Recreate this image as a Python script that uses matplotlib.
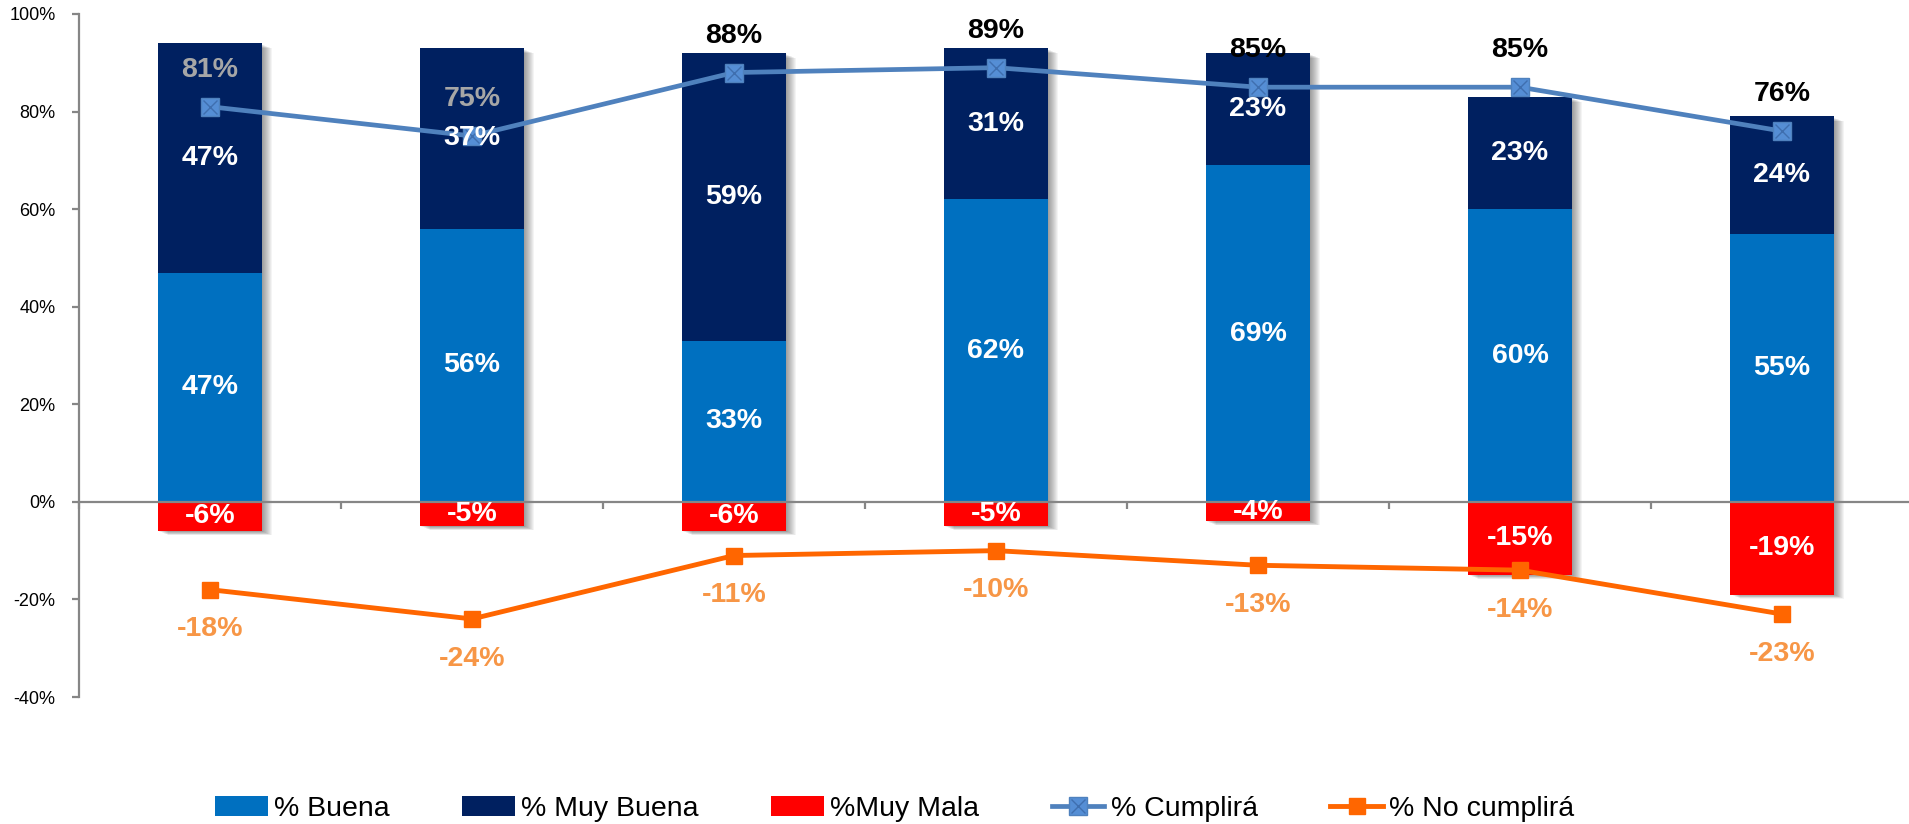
import numpy as np
import matplotlib
matplotlib.use('Agg')
import matplotlib.pyplot as plt
from matplotlib.ticker import FuncFormatter, FixedLocator

# ---- data ----
categories = ['1', '2', '3', '4', '5', '6', '7']
buena = [47, 56, 33, 62, 69, 60, 55]
muy_buena = [47, 37, 59, 31, 23, 23, 24]
muy_mala = [-6, -5, -6, -5, -4, -15, -19]
cumplira = [81, 75, 88, 89, 85, 85, 76]
no_cumplira = [-18, -24, -11, -10, -13, -14, -23]
yticks = [-40, -20, 0, 20, 40, 60, 80, 100]

plt.rcParams['font.family'] = ['Liberation Sans', 'DejaVu Sans']

W, H = 1909, 824
fig = plt.figure(figsize=(W / 100, H / 100), dpi=100)
ax = fig.add_axes([79 / W, 1 - 697 / H, (1913 - 79) / W, (697 - 14) / H])

x = np.arange(len(categories))
bw = 0.4
ax.set_xlim(-0.5, len(x) - 0.5)
ax.set_ylim(-40, 100)

# soft shadow to the right of each bar stack
px_x = (len(x)) / (1913 - 79)      # data units per pixel (x)
px_y = 140 / (697 - 14)            # data units per pixel (y)
tops = np.array(buena) + np.array(muy_buena)
bots = np.array(muy_mala)
for k in range(1, 11):
    ax.bar(x + k * px_x, tops - bots - 1.0 * px_y, bottom=bots - 0.4 * k * px_y,
           width=bw, color='black', alpha=0.045, lw=0, zorder=0.5)

b1 = ax.bar(x, buena, width=bw, color='#0070C0', lw=0, zorder=1)
b2 = ax.bar(x, muy_buena, bottom=buena, width=bw, color='#002060', lw=0, zorder=1)
b3 = ax.bar(x, muy_mala, width=bw, color='#FF0000', lw=0, zorder=1)

l1, = ax.plot(x, cumplira, color='#4F81BD', lw=3.4, marker='s', ms=13,
              mfc='#558ED5', mec='#4F81BD', zorder=5)
l1x, = ax.plot(x, cumplira, ls='none', marker='x', ms=10, mec='#3F6FAF',
               mew=1.0, zorder=6)
l2, = ax.plot(x, no_cumplira, color='#FF6600', lw=3.5, marker='s', ms=12,
              mfc='#FF6600', mec='#FF6600', zorder=5)

lab_kw = dict(ha='center', va='center', fontsize=20.5, fontweight='bold')
for i in range(len(x)):
    ax.text(x[i], buena[i] / 2, f'{buena[i]}%', color='white', zorder=7, **lab_kw)
    ax.text(x[i], buena[i] + muy_buena[i] / 2, f'{muy_buena[i]}%', color='white', zorder=7, **lab_kw)
    ax.text(x[i], muy_mala[i] / 2, f'{muy_mala[i]}%', color='white', zorder=7, **lab_kw)
    c = '#A6A6A6' if i < 2 else 'black'
    ax.annotate(f'{cumplira[i]}%', (x[i], cumplira[i]), xytext=(0, 26.5),
                textcoords='offset points', color=c, zorder=8, **lab_kw)
    ax.annotate(f'{no_cumplira[i]}%', (x[i], no_cumplira[i]), xytext=(0, -28.5),
                textcoords='offset points', color='#F79646', zorder=8, **lab_kw)

ax.yaxis.set_major_locator(FixedLocator(yticks))
ax.yaxis.set_major_formatter(FuncFormatter(lambda v, p: f'{v:.0f}%'))
ax.xaxis.set_major_locator(FixedLocator(np.arange(-0.5, len(x), 1.0)))
ax.set_xticklabels([])
for s in ('top', 'right'):
    ax.spines[s].set_visible(False)
ax.spines['bottom'].set_position(('data', 0))
for s in ('left', 'bottom'):
    ax.spines[s].set_color('#868686')
    ax.spines[s].set_linewidth(1.6)
    ax.spines[s].set_zorder(2)
ax.tick_params(axis='y', length=5, width=1.6, color='#868686', labelsize=13, pad=12)
ax.tick_params(axis='x', length=5, width=1.6, color='#868686', direction='out')

handles = [b1, b2, b3, (l1, l1x), l2]
labels = ['% Buena', '% Muy Buena', '%Muy Mala', '% Cumplirá', '% No cumplirá']
leg = fig.legend(handles, labels, loc='center left', bbox_to_anchor=(215 / W, 1 - 809 / H),
                 ncol=5, frameon=False, borderpad=0, borderaxespad=0,
                 handlelength=1.85, handletextpad=0.22, columnspacing=2.55,
                 prop={'size': 20.5})

fig.savefig('out.png', dpi=100)
